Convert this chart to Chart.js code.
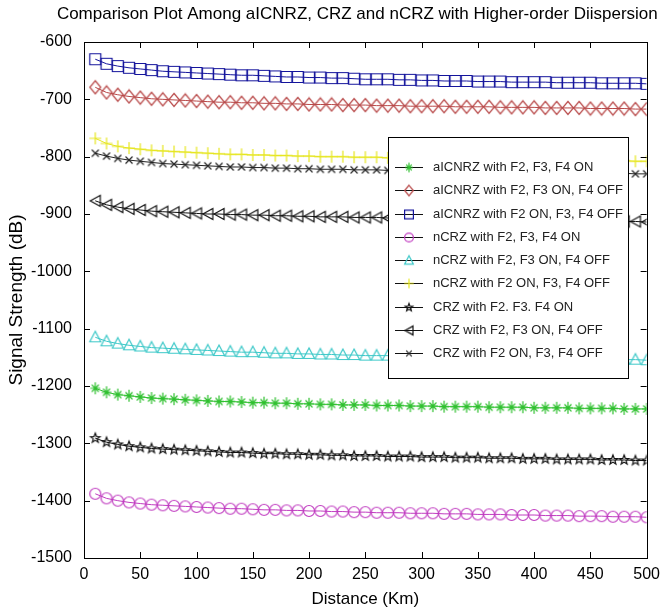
<!DOCTYPE html>
<html>
<head>
<meta charset="utf-8">
<script src="https://cdn.jsdelivr.net/npm/chart.js@4.4.0/dist/chart.umd.min.js"></script>
<style>
  html, body { margin: 0; padding: 0; background: #fff; }
  #wrap { width: 667px; height: 613px; }
</style>
</head>
<body>
<div id="wrap"><canvas id="chart" width="667" height="613"></canvas></div>
<script>
// distance in Km (x values)
const distance = [10, 20, 30, 40, 50, 60, 70, 80, 90, 100,
  110, 120, 130, 140, 150, 160, 170, 180, 190, 200,
  210, 220, 230, 240, 250, 260, 270, 280, 290, 300,
  310, 320, 330, 340, 350, 360, 370, 380, 390, 400,
  410, 420, 430, 440, 450, 460, 470, 480, 490, 500];

// signal strength (dB)
const aicnrzAllOn = [-1204, -1211, -1215, -1217, -1219, -1221, -1222, -1223, -1224, -1225,
  -1226, -1227, -1227, -1228, -1229, -1229, -1230, -1230, -1231, -1231,
  -1232, -1232, -1233, -1233, -1233, -1234, -1234, -1234, -1235, -1235,
  -1235, -1236, -1236, -1236, -1236, -1237, -1237, -1237, -1237, -1238,
  -1238, -1238, -1238, -1239, -1239, -1239, -1239, -1240, -1240, -1240];
const aicnrzF4Off = [-679, -688, -692, -695, -697, -699, -700, -701, -702, -703,
  -704, -705, -705, -706, -706, -707, -707, -708, -708, -709,
  -709, -709, -710, -710, -710, -711, -711, -711, -712, -712,
  -712, -712, -713, -713, -713, -713, -714, -714, -714, -714,
  -715, -715, -715, -715, -716, -716, -716, -716, -717, -717];
const aicnrzF2Only = [-630, -638, -642, -645, -647, -649, -651, -652, -653, -654,
  -655, -656, -657, -658, -658, -659, -660, -661, -661, -662,
  -662, -663, -663, -664, -665, -665, -665, -666, -666, -667,
  -667, -668, -668, -668, -669, -669, -669, -670, -670, -670,
  -670, -671, -671, -671, -671, -672, -672, -672, -672, -673];
const ncrzAllOn = [-1388, -1396, -1400, -1403, -1405, -1407, -1408, -1409, -1410, -1411,
  -1412, -1413, -1414, -1414, -1415, -1416, -1416, -1417, -1417, -1418,
  -1418, -1419, -1419, -1420, -1420, -1421, -1421, -1421, -1422, -1422,
  -1422, -1423, -1423, -1423, -1424, -1424, -1424, -1425, -1425, -1425,
  -1426, -1426, -1426, -1427, -1427, -1427, -1428, -1428, -1428, -1429];
const ncrzF4Off = [-1115, -1122, -1126, -1129, -1131, -1133, -1134, -1135, -1136, -1137,
  -1138, -1139, -1140, -1141, -1141, -1142, -1143, -1143, -1144, -1144,
  -1145, -1145, -1146, -1146, -1147, -1147, -1147, -1148, -1148, -1148,
  -1149, -1149, -1149, -1150, -1150, -1150, -1151, -1151, -1151, -1152,
  -1152, -1152, -1152, -1153, -1153, -1153, -1154, -1154, -1154, -1155];
const ncrzF2Only = [-768, -777, -782, -785, -787, -789, -790, -791, -792, -793,
  -794, -795, -796, -796, -797, -797, -798, -798, -799, -799,
  -800, -800, -800, -801, -801, -801, -802, -802, -802, -803,
  -803, -803, -804, -804, -804, -804, -805, -805, -805, -805,
  -806, -806, -806, -806, -807, -807, -807, -807, -808, -808];
const crzAllOn = [-1291, -1298, -1302, -1305, -1307, -1309, -1310, -1311, -1312, -1313,
  -1314, -1315, -1316, -1316, -1317, -1318, -1318, -1319, -1319, -1320,
  -1320, -1321, -1321, -1322, -1322, -1322, -1323, -1323, -1323, -1324,
  -1324, -1324, -1325, -1325, -1325, -1326, -1326, -1326, -1327, -1327,
  -1327, -1328, -1328, -1328, -1328, -1329, -1329, -1329, -1330, -1330];
const crzF4Off = [-877, -884, -888, -891, -893, -895, -896, -897, -898, -899,
  -900, -900, -901, -901, -902, -902, -903, -903, -904, -904,
  -905, -905, -905, -906, -906, -906, -907, -907, -907, -908,
  -908, -908, -909, -909, -909, -910, -910, -910, -910, -911,
  -911, -911, -912, -912, -912, -912, -913, -913, -913, -914];
const crzF2Only = [-794, -799, -803, -806, -808, -810, -812, -813, -814, -815,
  -816, -817, -818, -818, -819, -819, -820, -820, -821, -821,
  -822, -822, -822, -823, -823, -823, -824, -824, -824, -825,
  -825, -825, -826, -826, -826, -826, -827, -827, -827, -827,
  -828, -828, -828, -828, -829, -829, -829, -829, -830, -830];

const seriesNames = [
  'aICNRZ with F2, F3, F4 ON',
  'aICNRZ with F2, F3 ON, F4 OFF',
  'aICNRZ with F2 ON, F3, F4 OFF',
  'nCRZ with F2, F3, F4 ON',
  'nCRZ with F2, F3 ON, F4 OFF',
  'nCRZ with F2 ON, F3, F4 OFF',
  'CRZ with F2. F3. F4 ON',
  'CRZ with F2, F3 ON, F4 OFF',
  'CRZ with F2 ON, F3, F4 OFF'
];
const seriesValues = [aicnrzAllOn, aicnrzF4Off, aicnrzF2Only, ncrzAllOn, ncrzF4Off,
  ncrzF2Only, crzAllOn, crzF4Off, crzF2Only];
const seriesColors = ['#2ec02e', '#b84848', '#14149c', '#c03cc0', '#3cc8c8',
  '#e6e61e', '#111111', '#111111', '#222222'];
const seriesMarkers = ['asterisk', 'diamond', 'square', 'circle', 'triUp',
  'plus', 'star5', 'triLeft', 'x'];

const fontFamily = '"Liberation Sans", Arial, sans-serif';

// draw a matlab-like marker on a small canvas
function makeMarker(kind, color, scale) {
  const c = document.createElement('canvas');
  c.width = 16; c.height = 16;
  const g = c.getContext('2d');
  g.translate(8, 8);
  g.scale(scale, scale);
  g.strokeStyle = color;
  g.lineWidth = 1.2 / scale;
  g.beginPath();
  switch (kind) {
    case 'square':
      g.rect(-5.5, -5.5, 11, 11);
      break;
    case 'diamond':
      g.moveTo(0, -6.5); g.lineTo(5.5, 0); g.lineTo(0, 6.5); g.lineTo(-5.5, 0); g.closePath();
      break;
    case 'circle':
      g.arc(0, 0, 5.5, 0, Math.PI * 2);
      break;
    case 'triUp':
      g.moveTo(0, -6); g.lineTo(5.5, 4.5); g.lineTo(-5.5, 4.5); g.closePath();
      break;
    case 'triLeft':
      g.moveTo(-5, 0); g.lineTo(5, -5.5); g.lineTo(5, 5.5); g.closePath();
      break;
    case 'plus':
      g.moveTo(-6, 0); g.lineTo(6, 0); g.moveTo(0, -6); g.lineTo(0, 6);
      break;
    case 'x':
      g.moveTo(-3.5, -3.5); g.lineTo(3.5, 3.5); g.moveTo(3.5, -3.5); g.lineTo(-3.5, 3.5);
      break;
    case 'asterisk':
      g.moveTo(-5, 0); g.lineTo(5, 0); g.moveTo(0, -6); g.lineTo(0, 6);
      g.moveTo(-3.5, -3.5); g.lineTo(3.5, 3.5); g.moveTo(3.5, -3.5); g.lineTo(-3.5, 3.5);
      break;
    case 'star5':
      for (let i = 0; i < 10; i++) {
        const r = i % 2 === 0 ? 5 : 2.1;
        const a = -Math.PI / 2 + i * Math.PI / 5;
        if (i === 0) g.moveTo(r * Math.cos(a), r * Math.sin(a));
        else g.lineTo(r * Math.cos(a), r * Math.sin(a));
      }
      g.closePath();
      break;
  }
  g.stroke();
  return c;
}

const datasets = seriesNames.map((name, i) => ({
  label: name,
  data: distance.map((d, j) => ({ x: d, y: seriesValues[i][j] })),
  borderColor: seriesColors[i],
  backgroundColor: seriesColors[i],
  borderWidth: 1,
  pointStyle: makeMarker(seriesMarkers[i], seriesColors[i], 1),
  legendMarker: makeMarker(seriesMarkers[i], seriesColors[i], 0.8),
  pointRadius: 5,
  tension: 0
}));

// title, box, inward ticks on all four sides
const framePlugin = {
  id: 'frame',
  afterDatasetsDraw(chart) {
    const { ctx, chartArea: a, scales } = chart;
    ctx.save();
    ctx.strokeStyle = '#000';
    ctx.lineWidth = 1;
    ctx.strokeRect(Math.round(a.left) + 0.5, Math.round(a.top) + 0.5,
      Math.round(a.right - a.left), Math.round(a.bottom - a.top));
    ctx.beginPath();
    scales.x.ticks.forEach(t => {
      const px = Math.round(scales.x.getPixelForValue(t.value)) + 0.5;
      ctx.moveTo(px, a.bottom); ctx.lineTo(px, a.bottom - 6);
      ctx.moveTo(px, a.top); ctx.lineTo(px, a.top + 6);
    });
    scales.y.ticks.forEach(t => {
      const py = Math.round(scales.y.getPixelForValue(t.value)) + 0.5;
      ctx.moveTo(a.left, py); ctx.lineTo(a.left + 6, py);
      ctx.moveTo(a.right, py); ctx.lineTo(a.right - 6, py);
    });
    ctx.stroke();
    ctx.fillStyle = '#000';
    ctx.font = '17px ' + fontFamily;
    ctx.textAlign = 'center';
    ctx.textBaseline = 'middle';
    ctx.fillText('Comparison Plot Among aICNRZ, CRZ and nCRZ with Higher-order Diispersion',
      (a.left + a.right) / 2 - 8, 14);
    ctx.restore();
  }
};

// boxed legend inside the plot, line with marker in the middle
const legendPlugin = {
  id: 'boxLegend',
  afterDraw(chart) {
    const ctx = chart.ctx;
    const sets = chart.data.datasets;
    const left = 388, top = 137, w = 240, h = 241, rowH = 23.25, firstRow = 167;
    ctx.save();
    ctx.fillStyle = '#fff';
    ctx.fillRect(left, top, w, h);
    ctx.strokeStyle = '#000';
    ctx.lineWidth = 1;
    ctx.strokeRect(left + 0.5, top + 0.5, w, h);
    ctx.font = '13px ' + fontFamily;
    ctx.textBaseline = 'middle';
    sets.forEach((ds, i) => {
      const y = Math.round(firstRow + i * rowH) + 0.5;
      ctx.strokeStyle = '#111';
      ctx.beginPath();
      ctx.moveTo(left + 7, y); ctx.lineTo(left + 35, y);
      ctx.stroke();
      const m = ds.legendMarker;
      ctx.drawImage(m, left + 21 - m.width / 2, y - m.height / 2);
      ctx.fillStyle = '#222';
      ctx.fillText(ds.label, left + 45, y);
    });
    ctx.restore();
  }
};

const tickFont = { family: fontFamily, size: 16 };

new Chart(document.getElementById('chart'), {
  type: 'line',
  data: { datasets: datasets },
  options: {
    responsive: false,
    animation: false,
    layout: { padding: { top: 42, right: 14, left: 0, bottom: 0 } },
    plugins: {
      legend: { display: false },
      title: { display: false },
      tooltip: { enabled: false }
    },
    scales: {
      x: {
        type: 'linear',
        min: 0, max: 500,
        grid: { display: false, drawTicks: false },
        border: { display: false },
        ticks: { stepSize: 50, color: '#000', font: tickFont, padding: 7, maxRotation: 0,
          callback: v => String(v) },
        title: { display: true, text: 'Distance (Km)', color: '#000',
          font: { family: fontFamily, size: 17 },
          padding: { top: 0, bottom: 3 } },
        afterFit(s) { s.height = 55; }
      },
      y: {
        min: -1500, max: -600,
        grid: { display: false, drawTicks: false },
        border: { display: false },
        ticks: { stepSize: 100, color: '#000', font: tickFont, padding: 12,
          callback: v => String(v) },
        title: { display: true, text: 'Signal Strength (dB)', color: '#000',
          font: { family: fontFamily, size: 19 },
          padding: { top: 5, bottom: 0 } },
        afterFit(s) { s.width = 84; }
      }
    }
  },
  plugins: [framePlugin, legendPlugin]
});
</script>
</body>
</html>
